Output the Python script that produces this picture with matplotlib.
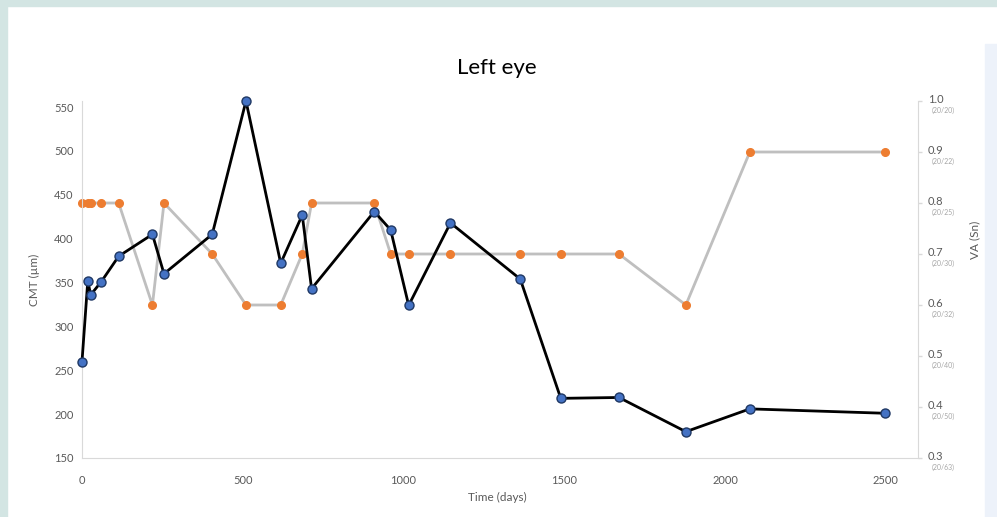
import matplotlib
matplotlib.use("Agg")
import matplotlib.pyplot as plt
from matplotlib.patches import Rectangle
from matplotlib.transforms import blended_transform_factory

plt.rcParams['font.family'] = ['Lato', 'DejaVu Sans']

# Visit days and measurements
days = [0, 18, 27, 60, 114, 219, 255, 405, 510, 618, 685, 714, 909, 960,
        1016, 1146, 1363, 1489, 1670, 1878, 2077, 2497]
cmt = [260, 352, 336, 351, 380, 405, 360, 405, 557, 372, 427, 343, 431, 410,
       324, 418, 354, 218, 219, 180, 206, 201]
va = [0.8, 0.8, 0.8, 0.8, 0.8, 0.6, 0.8, 0.7, 0.6, 0.6, 0.7, 0.8, 0.8, 0.7,
      0.7, 0.7, 0.7, 0.7, 0.7, 0.6, 0.9, 0.9]

x_ticks = [0, 500, 1000, 1500, 2000, 2500]
cmt_ticks = [150, 200, 250, 300, 350, 400, 450, 500, 550]
va_ticks = [0.3, 0.4, 0.5, 0.6, 0.7, 0.8, 0.9, 1.0]
snellen = ["(20/63)", "(20/50)", "(20/40)", "(20/32)", "(20/30)", "(20/25)",
           "(20/22)", "(20/20)"]

W, H = 997, 517
fig = plt.figure(figsize=(W / 100, H / 100), dpi=100)
fig.patch.set_facecolor("white")

# page frame
fig.patches.append(Rectangle((0, 1 - 6 / H), 1, 6 / H, transform=fig.transFigure,
                             color="#d3e5e3", zorder=0))
fig.patches.append(Rectangle((0, 0), 7 / W, 1, transform=fig.transFigure,
                             color="#d3e5e3", zorder=0))
fig.patches.append(Rectangle((985 / W, 0), 12 / W, 1 - 44 / H, transform=fig.transFigure,
                             color="#edf2fa", zorder=0))

left, right = 82 / W, 918 / W
bottom, top = 1 - 458 / H, 1 - 101 / H
ax = fig.add_axes([left, bottom, right - left, top - bottom])
ax2 = ax.twinx()

grey_axis = "#d9d9d9"
tick_col = "#595959"

# visual acuity (secondary axis) drawn beneath CMT
ax2.plot(days, va, color="#bfbfbf", lw=2, marker="o", ms=5.5,
         mfc="#ed7d31", mec="#ed7d31", zorder=2, clip_on=False)
ax2.set_ylim(0.3, 1.0)
ax2.set_yticks(va_ticks)
ax2.set_yticklabels([])
ax2.tick_params(axis="y", direction="out", length=3, color=grey_axis, width=1)

ax.set_zorder(ax2.get_zorder() + 1)
ax.patch.set_visible(False)
ax.plot(days, cmt, color="black", lw=2, marker="o", ms=6.5,
        mfc="#4472c4", mec="#1f3864", mew=1, zorder=3, clip_on=False)
ax.set_xlim(0, 2600)
ax.set_ylim(150, 557)
ax.set_xticks(x_ticks)
ax.set_yticks(cmt_ticks)
ax.tick_params(axis="both", length=0, labelsize=8, labelcolor=tick_col, pad=6)
ax.tick_params(axis="x", pad=12)

for a in (ax, ax2):
    a.spines["top"].set_visible(False)
    a.spines["left"].set_color(grey_axis)
    a.spines["bottom"].set_color(grey_axis)
    a.spines["right"].set_color(grey_axis)
ax.spines["right"].set_visible(False)
ax2.spines["left"].set_visible(False)
ax2.spines["bottom"].set_visible(False)

# two-line labels on the VA axis
tr = blended_transform_factory(ax2.transAxes, ax2.transData)
for v, s in zip(va_ticks, snellen):
    ax2.text(1.012, v + 0.003, f"{v:.1f}", transform=tr, fontsize=8,
             color=tick_col, ha="left", va="center")
    ax2.text(1.016, v - 0.019, s, transform=tr, fontsize=5,
             color="#a6a6a6", ha="left", va="center")

ax.set_ylabel("CMT (µm)", fontsize=8.5, color=tick_col, labelpad=10)
fig.text(975 / W, 1 - 240 / H, "VA (Sn)", rotation=90, fontsize=8.5,
         color=tick_col, ha="center", va="center")
fig.text(497 / W, 1 - 497 / H, "Time (days)", fontsize=8.5, color=tick_col,
         ha="center", va="center")
fig.text(497 / W, 1 - 68 / H, "Left eye", fontsize=16, color="black",
         ha="center", va="center")

fig.savefig("out.png", dpi=100)
